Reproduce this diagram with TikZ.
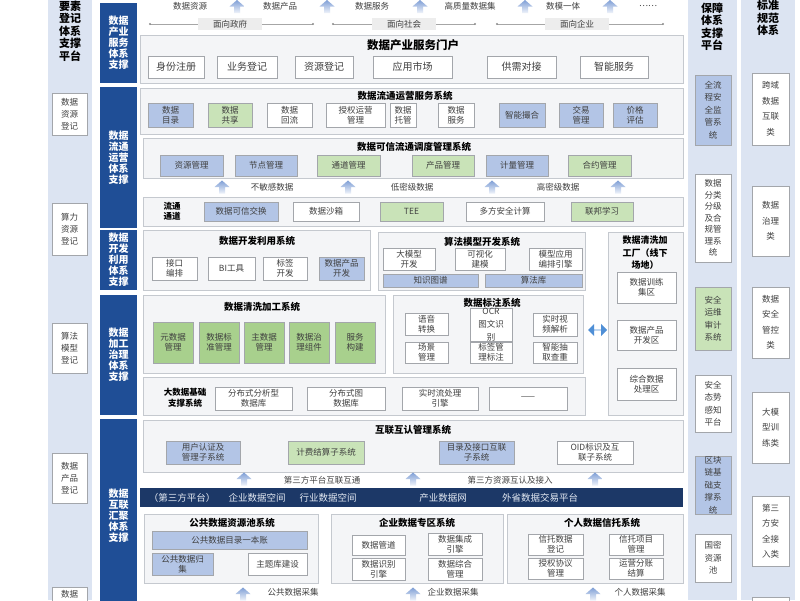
\documentclass[tikz,border=0pt]{standalone}
\usepackage{fontspec}
\setmainfont{Noto Sans CJK SC}
\usetikzlibrary{shapes.arrows}
\definecolor{navy}{HTML}{1F4E96}
\definecolor{deepnavy}{HTML}{1C3867}
\definecolor{stripblue}{HTML}{DCE4F2}
\definecolor{panelgray}{HTML}{F4F5F7}
\definecolor{panelline}{HTML}{C5C9CF}
\definecolor{boxline}{HTML}{A3A6AB}
\definecolor{boxblue}{HTML}{B3C5E6}
\definecolor{boxgreen}{HTML}{C9E3B8}
\definecolor{leafgreen}{HTML}{A8D08D}
\definecolor{txtgray}{HTML}{3F3F3F}
\definecolor{arrowblue}{HTML}{7F9FD6}
\definecolor{swapblue}{HTML}{4F8FD6}
% fat up arrow centred on a named coordinate
\newcommand{\liftarrow}[1]{\shade [top color=arrowblue, bottom color=arrowblue!12] ([shift={(-3pt,-6.5pt)}]#1) -- ++(6pt,0pt) -- ++(0pt,6.5pt) -- ++(4.5pt,0pt) -- ++(-7.5pt,6.5pt) -- ++(-7.5pt,-6.5pt) -- ++(4.5pt,0pt) -- cycle;}

\begin{document}
\begin{tikzpicture}
[every node/.style={inner sep=0pt, align=center, font=\fontsize{8.5}{10}\selectfont},
 strip/.style={rectangle, fill=stripblue},
 striptitle/.style={font=\fontsize{11}{12.5}\selectfont\bfseries, text=black},
 sidebar/.style={rectangle, fill=navy, text=white, minimum width=37pt, font=\fontsize{10}{11}\selectfont\bfseries},
 panel/.style={rectangle, fill=panelgray, draw=panelline, line width=0.6pt},
 ptitle/.style={font=\fontsize{9.5}{11}\selectfont\bfseries, text=black},
 wbox/.style={rectangle, fill=white, draw=boxline, line width=0.5pt, text=txtgray},
 bbox/.style={wbox, fill=boxblue},
 gbox/.style={wbox, fill=boxgreen},
 lgbox/.style={wbox, fill=leafgreen},
 regbox/.style={wbox, minimum width=35pt, font=\fontsize{8.5}{12}\selectfont},
 safebox/.style={wbox, minimum width=36pt, font=\fontsize{8.5}{12.5}\selectfont},
 normbox/.style={wbox, minimum width=37pt, font=\fontsize{8.5}{15.5}\selectfont},
 flowtext/.style={text=txtgray},
 facing/.style={fill=black!7, minimum width=64pt, minimum height=12pt, text=txtgray},
 guide/.style={draw=black!35, line width=0.5pt},
 swaparrow/.style={double arrow, minimum height=19pt, minimum width=12pt, double arrow head extend=2.5pt, fill=swapblue}]
\useasboundingbox (0pt,0pt) rectangle (800pt,-600pt);
\fill [white] (0pt,0pt) rectangle (800pt,-600pt);

% side strips
\node (regstrip) [strip, minimum width=44pt, minimum height=600pt] at (70pt,-300pt) {};
\node (safestrip) [strip, minimum width=49pt, minimum height=600pt] at (712.5pt,-300pt) {};
\node (normstrip) [strip, minimum width=54pt, minimum height=600pt] at (768pt,-300pt) {};
\node (regtitle) [striptitle] at (70pt,-31pt) {要素\\登记\\体系\\支撑\\平台};
\node (safetitle) [striptitle] at (712pt,-27pt) {保障\\体系\\支撑\\平台};
\node (normtitle) [striptitle] at (768pt,-18pt) {标准\\规范\\体系};

\node (regdata) [regbox, minimum height=42pt] at (69.5pt,-114pt) {数据\\资源\\登记};
\node (regcomp) [regbox, minimum height=52pt] at (69.5pt,-229pt) {算力\\资源\\登记};
\node (regalgo) [regbox, minimum height=50pt] at (69.5pt,-348pt) {算法\\模型\\登记};
\node (regprod) [regbox, minimum height=50pt] at (69.5pt,-478pt) {数据\\产品\\登记};
\node (regmore) [regbox, minimum height=40pt] at (69.5pt,-607pt) {};
\node (regmoretext) [text=txtgray] at (69.5pt,-594pt) {数据};

\node (safeflow) [safebox, fill=boxblue, minimum height=70pt] at (713pt,-110pt) {全流\\程安\\全监\\管系\\统};
\node (safeclass) [safebox, minimum height=88pt, font=\fontsize{8.5}{11.5}\selectfont] at (713pt,-218pt) {数据\\分类\\分级\\及合\\规管\\理系\\统};
\node (safeaudit) [safebox, fill=boxgreen, minimum height=63pt] at (713pt,-318.5pt) {安全\\运维\\审计\\系统};
\node (safesense) [safebox, minimum height=57pt] at (713pt,-403.5pt) {安全\\态势\\感知\\平台};
\node (safechain) [safebox, fill=boxblue, minimum height=52pt] at (713pt,-485pt) {区块\\链基\\础支\\撑系\\统};
\node (safepool) [safebox, minimum height=48pt] at (713pt,-558pt) {国密\\资源\\池};

\node (normlink) [normbox, minimum height=72pt] at (770.5pt,-109pt) {跨域\\数据\\互联\\类};
\node (normgov) [normbox, minimum height=70pt] at (770.5pt,-221pt) {数据\\治理\\类};
\node (normsec) [normbox, minimum height=71pt] at (770.5pt,-322.5pt) {数据\\安全\\管控\\类};
\node (normllm) [normbox, minimum height=71pt] at (770.5pt,-427.5pt) {大模\\型训\\练类};
\node (normthird) [normbox, minimum height=70pt] at (770.5pt,-531pt) {第三\\方安\\全接\\入类};
\node (normmore) [normbox, minimum height=60pt] at (770.5pt,-627pt) {};

% dark side bars
\node (barserv) [sidebar, minimum height=80pt] at (118.5pt,-43pt) {数据\\产业\\服务\\体系\\支撑};
\node (barflow) [sidebar, minimum height=141pt] at (118.5pt,-157.5pt) {数据\\流通\\运营\\体系\\支撑};
\node (bardev) [sidebar, minimum height=60pt] at (118.5pt,-260pt) {数据\\开发\\利用\\体系\\支撑};
\node (barproc) [sidebar, minimum height=120pt] at (118.5pt,-355pt) {数据\\加工\\治理\\体系\\支撑};
\node (barlink) [sidebar, minimum height=182pt] at (118.5pt,-510pt) {};
\node (barlinktext) [sidebar, fill=none] at (118.5pt,-516pt) {数据\\互联\\汇聚\\体系\\支撑};

% outputs on top
\node (outres) [flowtext] at (190pt,-6pt) {数据资源};
\coordinate (upa) at (237pt,-6.5pt);
\node (outprod) [flowtext] at (280pt,-6pt) {数据产品};
\coordinate (upb) at (327pt,-6.5pt);
\node (outserv) [flowtext] at (372pt,-6pt) {数据服务};
\coordinate (upc) at (420pt,-6.5pt);
\node (outset) [flowtext] at (470pt,-6pt) {高质量数据集};
\coordinate (upd) at (525pt,-6.5pt);
\node (outmodel) [flowtext] at (563pt,-6pt) {数模一体};
\coordinate (upe) at (610pt,-6.5pt);
\node (outmore) [flowtext] at (648pt,-6pt) {……};
\liftarrow{upa} \liftarrow{upb} \liftarrow{upc} \liftarrow{upd} \liftarrow{upe}

\coordinate (govL) at (150pt,-24pt);
\coordinate (govR) at (313pt,-24pt);
\coordinate (socL) at (333pt,-24pt);
\coordinate (socR) at (475pt,-24pt);
\coordinate (entL) at (497pt,-24pt);
\coordinate (entR) at (663pt,-24pt);
\draw [guide] (govL) -- (govR);
\draw [guide] (socL) -- (socR);
\draw [guide] (entL) -- (entR);
\fill [black!45] (govL) circle (1.2pt) (govR) circle (1.2pt) (socL) circle (1.2pt) (socR) circle (1.2pt) (entL) circle (1.2pt) (entR) circle (1.2pt);
\node (gov) [facing] at (230pt,-24pt) {面向政府};
\node (soc) [facing] at (404pt,-24pt) {面向社会};
\node (ent) [facing] at (577pt,-24pt) {面向企业};

% service portal
\node (portal) [panel, minimum width=543pt, minimum height=48pt] at (411.5pt,-59pt) {};
\node (portaltitle) [ptitle, font=\fontsize{11.5}{13}\selectfont\bfseries] at (413pt,-45pt) {数据产业服务门户};
\node (signup) [wbox, minimum width=56pt, minimum height=22pt, font=\fontsize{10}{11}\selectfont] at (176pt,-67pt) {身份注册};
\node (bizreg) [wbox, minimum width=60pt, minimum height=22pt, font=\fontsize{10}{11}\selectfont] at (247pt,-67pt) {业务登记};
\node (resreg) [wbox, minimum width=58pt, minimum height=22pt, font=\fontsize{10}{11}\selectfont] at (324pt,-67pt) {资源登记};
\node (market) [wbox, minimum width=79pt, minimum height=22pt, font=\fontsize{10}{11}\selectfont] at (412.5pt,-67pt) {应用市场};
\node (match) [wbox, minimum width=69pt, minimum height=22pt, font=\fontsize{10}{11}\selectfont] at (521.5pt,-67pt) {供需对接};
\node (smart) [wbox, minimum width=68pt, minimum height=22pt, font=\fontsize{10}{11}\selectfont] at (614pt,-67pt) {智能服务};

% circulation operation
\node (opsys) [panel, minimum width=543pt, minimum height=46pt] at (411.5pt,-111pt) {};
\node (opsystitle) [ptitle] at (405pt,-96pt) {数据流通运营服务系统};
\node (catalog) [bbox, minimum width=45pt, minimum height=24pt] at (170.5pt,-115pt) {数据\\目录};
\node (share) [gbox, minimum width=44pt, minimum height=24pt] at (230pt,-115pt) {数据\\共享};
\node (backflow) [wbox, minimum width=45pt, minimum height=24pt] at (289.5pt,-115pt) {数据\\回流};
\node (license) [wbox, minimum width=59pt, minimum height=24pt] at (355.5pt,-115pt) {授权运营\\管理};
\node (custody) [wbox, minimum width=26pt, minimum height=24pt] at (403pt,-115pt) {数据\\托管};
\node (dataserv) [wbox, minimum width=36pt, minimum height=24pt] at (456pt,-115pt) {数据\\服务};
\node (broker) [bbox, minimum width=46pt, minimum height=24pt] at (522pt,-115pt) {智能撮合};
\node (trade) [bbox, minimum width=44pt, minimum height=24pt] at (581pt,-115pt) {交易\\管理};
\node (price) [bbox, minimum width=44pt, minimum height=24pt] at (635pt,-115pt) {价格\\评估};

\node (dispatch) [panel, minimum width=540pt, minimum height=40pt] at (413pt,-158pt) {};
\node (dispatchtitle) [ptitle] at (414pt,-146.5pt) {数据可信流通调度管理系统};
\node (resmgr) [bbox, minimum width=63pt, minimum height=21pt] at (191.5pt,-165.5pt) {资源管理};
\node (nodemgr) [bbox, minimum width=62pt, minimum height=21pt] at (266pt,-165.5pt) {节点管理};
\node (chanmgr) [gbox, minimum width=63pt, minimum height=21pt] at (348.5pt,-165.5pt) {通道管理};
\node (prodmgr) [gbox, minimum width=62pt, minimum height=21pt] at (443pt,-165.5pt) {产品管理};
\node (metermgr) [bbox, minimum width=62pt, minimum height=21pt] at (517pt,-165.5pt) {计量管理};
\node (contractmgr) [gbox, minimum width=63pt, minimum height=21pt] at (599.5pt,-165.5pt) {合约管理};

\coordinate (upf) at (222pt,-187pt);
\node (lowsens) [flowtext] at (272pt,-187pt) {不敏感数据};
\coordinate (upg) at (348pt,-187pt);
\node (lowsec) [flowtext] at (412pt,-187pt) {低密级数据};
\coordinate (uph) at (492pt,-187pt);
\node (highsec) [flowtext] at (558pt,-187pt) {高密级数据};
\coordinate (upi) at (618pt,-187pt);
\liftarrow{upf} \liftarrow{upg} \liftarrow{uph} \liftarrow{upi}

\node (channel) [panel, minimum width=540pt, minimum height=29pt] at (413pt,-211.5pt) {};
\node (channeltitle) [ptitle, font=\fontsize{8.5}{10}\selectfont\bfseries] at (172pt,-211.5pt) {流通\\通道};
\node (exchange) [bbox, minimum width=74pt, minimum height=19pt] at (241pt,-211.5pt) {数据可信交换};
\node (sandbox) [wbox, minimum width=66pt, minimum height=19pt] at (326pt,-211.5pt) {数据沙箱};
\node (tee) [gbox, minimum width=63pt, minimum height=19pt] at (411.5pt,-211.5pt) {TEE};
\node (mpc) [wbox, minimum width=78pt, minimum height=19pt] at (505pt,-211.5pt) {多方安全计算};
\node (fedlearn) [gbox, minimum width=62pt, minimum height=19pt] at (602pt,-211.5pt) {联邦学习};

% development and use
\node (devsys) [panel, minimum width=227pt, minimum height=60pt] at (256.5pt,-260pt) {};
\node (devsystitle) [ptitle] at (257pt,-241pt) {数据开发利用系统};
\node (apiorch) [wbox, minimum width=45pt, minimum height=23pt] at (174.5pt,-268.5pt) {接口\\编排};
\node (bitool) [wbox, minimum width=47pt, minimum height=23pt] at (231.5pt,-268.5pt) {BI工具};
\node (tagdev) [wbox, minimum width=44pt, minimum height=23pt] at (285pt,-268.5pt) {标签\\开发};
\node (proddev) [bbox, minimum width=45pt, minimum height=23pt] at (341.5pt,-268.5pt) {数据产品\\开发};

\node (algosys) [panel, minimum width=207pt, minimum height=58pt] at (481.5pt,-261pt) {};
\node (algosystitle) [ptitle] at (482pt,-242pt) {算法模型开发系统};
\node (llmdev) [wbox, minimum width=52pt, minimum height=22pt] at (409pt,-259pt) {大模型\\开发};
\node (vismodel) [wbox, minimum width=50pt, minimum height=22pt] at (480pt,-259pt) {可视化\\建模};
\node (modelorch) [wbox, minimum width=53pt, minimum height=22pt] at (555.5pt,-259pt) {模型应用\\编排引擎};
\node (kgraph) [bbox, minimum width=95pt, minimum height=13pt] at (430.5pt,-280.5pt) {知识图谱};
\node (algolib) [bbox, minimum width=97pt, minimum height=13pt] at (533.5pt,-280.5pt) {算法库};

% processing and governance
\node (cleansys) [panel, minimum width=242pt, minimum height=78pt] at (264pt,-334pt) {};
\node (cleansystitle) [ptitle] at (262pt,-307pt) {数据清洗加工系统};
\node (metadata) [lgbox, minimum width=40pt, minimum height=41pt] at (173pt,-342.5pt) {元数据\\管理};
\node (standard) [lgbox, minimum width=40pt, minimum height=41pt] at (219pt,-342.5pt) {数据标\\准管理};
\node (masterdata) [lgbox, minimum width=40pt, minimum height=41pt] at (264pt,-342.5pt) {主数据\\管理};
\node (govkit) [lgbox, minimum width=40pt, minimum height=41pt] at (309pt,-342.5pt) {数据治\\理组件};
\node (servbuild) [lgbox, minimum width=40pt, minimum height=41pt] at (355pt,-342.5pt) {服务\\构建};

\node (labelsys) [panel, minimum width=190pt, minimum height=78pt] at (488pt,-334pt) {};
\node (labelsystitle) [ptitle] at (492pt,-303pt) {数据标注系统};
\node (speech) [wbox, minimum width=43pt, minimum height=22pt] at (426.5pt,-324pt) {语音\\转换};
\node (ocr) [wbox, minimum width=42pt, minimum height=23pt, font=\fontsize{8.5}{13}\selectfont] at (491pt,-324.5pt) {OCR\\图文识\\别};
\node (video) [wbox, minimum width=44pt, minimum height=23pt] at (555pt,-324.5pt) {实时视\\频解析};
\node (scene) [wbox, minimum width=43pt, minimum height=21pt] at (426.5pt,-352.5pt) {场景\\管理};
\node (tagmark) [wbox, minimum width=42pt, minimum height=21pt] at (491pt,-352.5pt) {标签管\\理标注};
\node (dedup) [wbox, minimum width=44pt, minimum height=21pt] at (555pt,-352.5pt) {智能抽\\取查重};

\node (basesys) [panel, minimum width=442pt, minimum height=38pt] at (364pt,-396pt) {};
\node (basesystitle) [ptitle, font=\fontsize{8.5}{11}\selectfont\bfseries] at (185pt,-398pt) {大数据基础\\支撑系统};
\node (olapdb) [wbox, minimum width=77pt, minimum height=23pt] at (253.5pt,-398.5pt) {分布式分析型\\数据库};
\node (graphdb) [wbox, minimum width=78pt, minimum height=23pt] at (346pt,-398.5pt) {分布式图\\数据库};
\node (stream) [wbox, minimum width=76pt, minimum height=23pt] at (440pt,-398.5pt) {实时流处理\\引擎};
\node (basemore) [wbox, minimum width=78pt, minimum height=23pt] at (528pt,-398.5pt) {——};

\node (factory) [panel, minimum width=75pt, minimum height=183pt] at (645.5pt,-323.5pt) {};
\node (factorytitle) [ptitle, font=\fontsize{9}{12.5}\selectfont\bfseries] at (645pt,-253pt) {数据清洗加\\工厂（线下\\场地）};
\node (trainzone) [wbox, minimum width=59pt, minimum height=31pt] at (646.5pt,-287.5pt) {数据训练\\集区};
\node (devzone) [wbox, minimum width=59pt, minimum height=30pt] at (646.5pt,-335pt) {数据产品\\开发区};
\node (proczone) [wbox, minimum width=59pt, minimum height=32pt] at (646.5pt,-384pt) {综合数据\\处理区};
\node (swap) [swaparrow] at (597.5pt,-330pt) {};

% interconnection and convergence
\node (mutual) [panel, minimum width=540pt, minimum height=52pt] at (413pt,-446pt) {};
\node (mutualtitle) [ptitle] at (413pt,-430pt) {互联互认管理系统};
\node (userauth) [bbox, minimum width=74pt, minimum height=23pt] at (203pt,-452.5pt) {用户认证及\\管理子系统};
\node (billing) [gbox, minimum width=76pt, minimum height=23pt] at (326pt,-452.5pt) {计费结算子系统};
\node (catlink) [bbox, minimum width=75pt, minimum height=23pt] at (476.5pt,-452.5pt) {目录及接口互联\\子系统};
\node (oidlink) [wbox, minimum width=76pt, minimum height=23pt] at (595pt,-452.5pt) {OID标识及互\\联子系统};

\coordinate (upj) at (244pt,-479pt);
\node (thirdlink) [flowtext] at (322pt,-480pt) {第三方平台互联互通};
\coordinate (upk) at (413pt,-479pt);
\node (thirdres) [flowtext] at (510pt,-480pt) {第三方资源互认及接入};
\coordinate (upl) at (595pt,-479pt);
\liftarrow{upj} \liftarrow{upk} \liftarrow{upl}

\node (spacebar) [rectangle, fill=deepnavy, minimum width=543pt, minimum height=19pt] at (411.5pt,-497.5pt) {};
\node (sp1) [text=white!88!navy, font=\fontsize{9.5}{11}\selectfont] at (182pt,-497.5pt) {（第三方平台）};
\node (sp2) [text=white!88!navy, font=\fontsize{9.5}{11}\selectfont] at (257pt,-497.5pt) {企业数据空间};
\node (sp3) [text=white!88!navy, font=\fontsize{9.5}{11}\selectfont] at (328pt,-497.5pt) {行业数据空间};
\node (sp4) [text=white!88!navy, font=\fontsize{9.5}{11}\selectfont] at (443pt,-497.5pt) {产业数据网};
\node (sp5) [text=white!88!navy, font=\fontsize{9.5}{11}\selectfont] at (540pt,-497.5pt) {外省数据交易平台};

\node (pubpool) [panel, minimum width=174pt, minimum height=69pt] at (231pt,-548.5pt) {};
\node (pubpooltitle) [ptitle] at (232pt,-523pt) {公共数据资源池系统};
\node (publedger) [bbox, minimum width=155pt, minimum height=18pt] at (229.5pt,-540pt) {公共数据目录一本账};
\node (pubcollect) [bbox, minimum width=61pt, minimum height=22pt] at (182.5pt,-564pt) {公共数据归\\集};
\node (themedb) [wbox, minimum width=59pt, minimum height=22pt] at (277.5pt,-564pt) {主题库建设};

\node (entzone) [panel, minimum width=172pt, minimum height=69pt] at (417pt,-548.5pt) {};
\node (entzonetitle) [ptitle] at (417pt,-523pt) {企业数据专区系统};
\node (pipeline) [wbox, minimum width=53pt, minimum height=20pt] at (378.5pt,-545pt) {数据管道};
\node (integrate) [wbox, minimum width=54pt, minimum height=22pt] at (455pt,-544pt) {数据集成\\引擎};
\node (identify) [wbox, minimum width=53pt, minimum height=22pt] at (378.5pt,-569pt) {数据识别\\引擎};
\node (synth) [wbox, minimum width=54pt, minimum height=22pt] at (455pt,-569pt) {数据综合\\管理};

\node (trust) [panel, minimum width=176pt, minimum height=69pt] at (595pt,-548.5pt) {};
\node (trusttitle) [ptitle] at (602pt,-523pt) {个人数据信托系统};
\node (trustreg) [wbox, minimum width=55pt, minimum height=21pt] at (555.5pt,-544.5pt) {信托数据\\登记};
\node (trustproj) [wbox, minimum width=54pt, minimum height=21pt] at (636pt,-544.5pt) {信托项目\\管理};
\node (authdeal) [wbox, minimum width=55pt, minimum height=21pt] at (555.5pt,-568.5pt) {授权协议\\管理};
\node (settle) [wbox, minimum width=54pt, minimum height=21pt] at (636pt,-568.5pt) {运营分账\\结算};

\coordinate (upm) at (243pt,-594pt);
\node (pubgather) [flowtext] at (293pt,-592pt) {公共数据采集};
\coordinate (upn) at (413pt,-594pt);
\node (entgather) [flowtext] at (453pt,-592pt) {企业数据采集};
\coordinate (upo) at (593pt,-594pt);
\node (pergather) [flowtext] at (640pt,-592pt) {个人数据采集};
\liftarrow{upm} \liftarrow{upn} \liftarrow{upo}
\end{tikzpicture}
\end{document}
